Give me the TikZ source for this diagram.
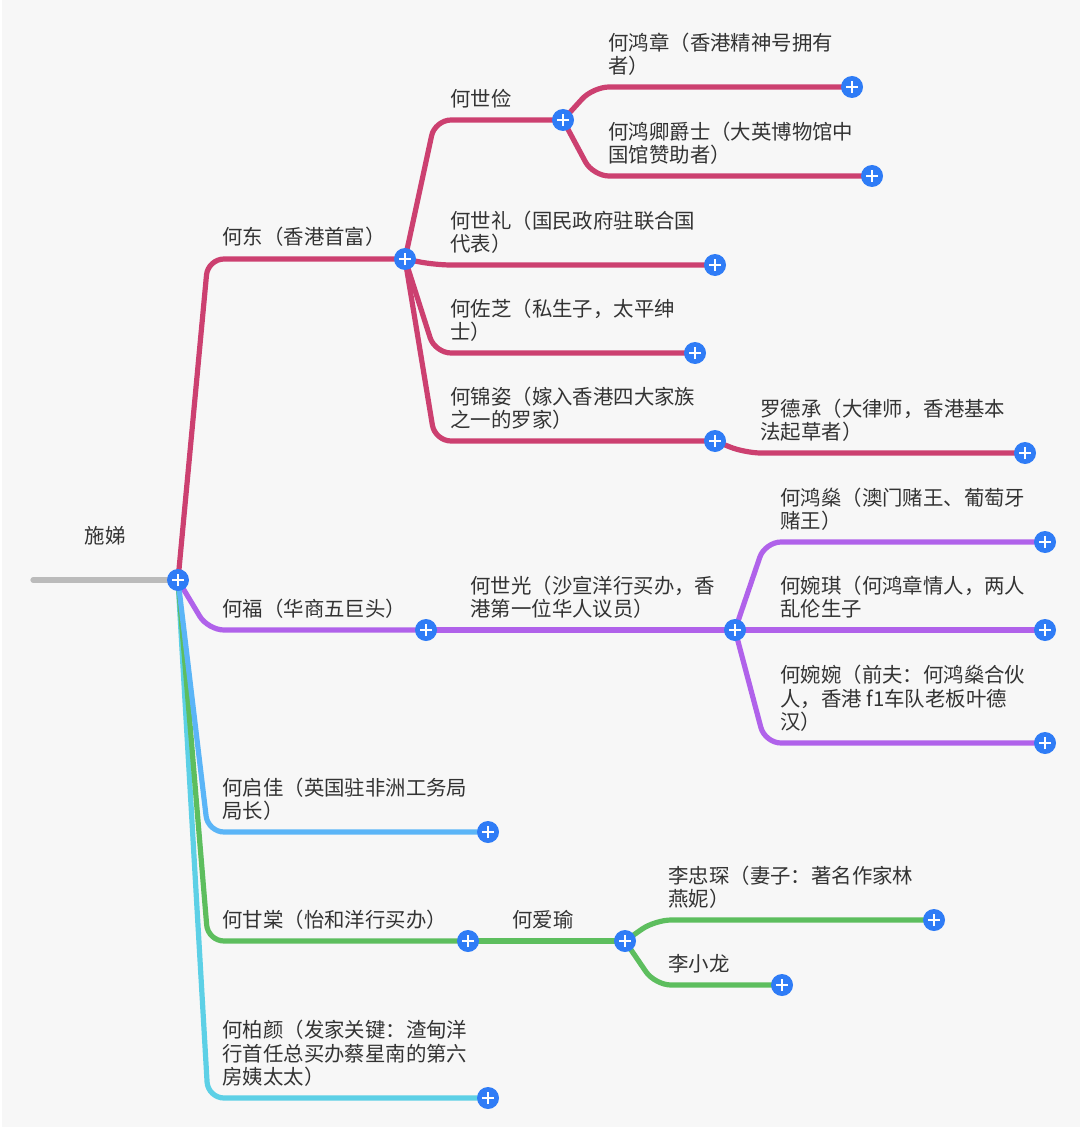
\documentclass[tikz,border=0pt]{standalone}
\usepackage{fontspec}
\setmainfont{Noto Sans CJK SC}
\usetikzlibrary{calc}

\pgfdeclarelayer{bg}
\pgfsetlayers{bg,main}

\definecolor{paper}{HTML}{F7F7F7}
\definecolor{txtgray}{HTML}{333333}
\definecolor{btnblue}{HTML}{2F7CF6}
\definecolor{rootgray}{HTML}{BBBBBB}
\definecolor{crimson}{HTML}{CC4070}
\definecolor{violet}{HTML}{B062EA}
\definecolor{skyblue}{HTML}{5BB5F7}
\definecolor{leafgreen}{HTML}{5DBE5E}
\definecolor{aqua}{HTML}{5DD0E6}

\tikzset{
	conn/.style={line width=2.6pt, line cap=round, rounded corners=8pt},
	plusbtn/.style={circle, fill=btnblue, minimum size=11pt, inner sep=0pt,
		path picture={
			\draw[white, line width=1.4pt]
				([xshift=-3pt]path picture bounding box.center) -- ([xshift=3pt]path picture bounding box.center)
				([yshift=-3pt]path picture bounding box.center) -- ([yshift=3pt]path picture bounding box.center);
		}},
	lbl/.style={anchor=south west, inner sep=0pt, align=left, text=txtgray,
		font=\fontsize{10.2pt}{11.75pt}\selectfont}
}

\begin{document}
\begin{tikzpicture}[x=0.5pt, y=-0.5pt]
	\useasboundingbox (0,0) rectangle (1080,1134);

	% buttons
	\node [plusbtn] (root) at (178,580) {};
	\node [plusbtn] (hd)   at (405,259) {};
	\node [plusbtn] (hsj)  at (563,120) {};
	\node [plusbtn] (hhz)  at (852,87) {};
	\node [plusbtn] (hhq)  at (872,176) {};
	\node [plusbtn] (hsl)  at (715,265) {};
	\node [plusbtn] (hzz)  at (695,353) {};
	\node [plusbtn] (hjz)  at (715,441) {};
	\node [plusbtn] (ldc)  at (1025,453) {};
	\node [plusbtn] (hf)   at (426,630) {};
	\node [plusbtn] (hsg)  at (735,630) {};
	\node [plusbtn] (hhs)  at (1045,542) {};
	\node [plusbtn] (hwq)  at (1045,630) {};
	\node [plusbtn] (hww)  at (1045,743) {};
	\node [plusbtn] (hqj)  at (488,832) {};
	\node [plusbtn] (hgt)  at (468,941) {};
	\node [plusbtn] (hay)  at (625,941) {};
	\node [plusbtn] (lzc)  at (934,920) {};
	\node [plusbtn] (lxl)  at (782,985) {};
	\node [plusbtn] (hby)  at (488,1098) {};
	\coordinate (rootend) at (33,580);

	% labels
	\node [lbl, anchor=center] (shiti) at (105,536) {施娣};
	\node [lbl] (hdT)  at (222,247) {何东（香港首富）};
	\node [lbl] (hsjT) at (450,109) {何世俭};
	\node [lbl] (hhzT) at (608,76) {何鸿章（香港精神号拥有\\者）};
	\node [lbl] (hhqT) at (608,165) {何鸿卿爵士（大英博物馆中\\国馆赞助者）};
	\node [lbl] (hslT) at (450,254) {何世礼（国民政府驻联合国\\代表）};
	\node [lbl] (hzzT) at (450,342) {何佐芝（私生子，太平绅\\士）};
	\node [lbl] (hjzT) at (450,430) {何锦姿（嫁入香港四大家族\\之一的罗家）};
	\node [lbl] (ldcT) at (760,442) {罗德承（大律师，香港基本\\法起草者）};
	\node [lbl] (hfT)  at (222,619) {何福（华商五巨头）};
	\node [lbl] (hsgT) at (470,619) {何世光（沙宣洋行买办，香\\港第一位华人议员）};
	\node [lbl] (hhsT) at (780,531) {何鸿燊（澳门赌王、葡萄牙\\赌王）};
	\node [lbl] (hwqT) at (780,619) {何婉琪（何鸿章情人，两人\\乱伦生子};
	\node [lbl] (hwwT) at (780,732) {何婉婉（前夫：何鸿燊合伙\\人，香港 f1车队老板叶德\\汉）};
	\node [lbl] (hqjT) at (222,821) {何启佳（英国驻非洲工务局\\局长）};
	\node [lbl] (hgtT) at (222,930) {何甘棠（怡和洋行买办）};
	\node [lbl] (hayT) at (512,930) {何爱瑜};
	\node [lbl] (lzcT) at (668,909) {李忠琛（妻子：著名作家林\\燕妮）};
	\node [lbl] (lxlT) at (668,974) {李小龙};
	\node [lbl] (hbyT) at (222,1087) {何柏颜（发家关键：渣甸洋\\行首任总买办蔡星南的第六\\房姨太太）};

	\begin{pgfonlayer}{bg}
		\fill [white] (0,0) rectangle (1080,1134);
		\fill [paper] (2,0) rectangle (1080,1127);

		\draw [conn, rootgray] (rootend) -- (root.center);

		% 何东
		\draw [conn, crimson] (root.center) -- ($(root.center |- hd.center)+(30,0)$) -- (hd.center);
		\draw [conn, crimson] (hd.center) -- ($(hd.center |- hsj.center)+(30,0)$) -- (hsj.center);
		\draw [conn, crimson] (hsj.center) -- ($(hsj.center |- hhz.center)+(30,0)$) -- (hhz.center);
		\draw [conn, crimson] (hsj.center) -- ($(hsj.center |- hhq.center)+(30,0)$) -- (hhq.center);
		\draw [conn, crimson] (hd.center) -- ($(hd.center |- hsl.center)+(30,0)$) -- (hsl.center);
		\draw [conn, crimson] (hd.center) -- ($(hd.center |- hzz.center)+(30,0)$) -- (hzz.center);
		\draw [conn, crimson] (hd.center) -- ($(hd.center |- hjz.center)+(30,0)$) -- (hjz.center);
		\draw [conn, crimson] (hjz.center) -- ($(hjz.center |- ldc.center)+(30,0)$) -- (ldc.center);

		% 何福
		\draw [conn, violet] (root.center) -- ($(root.center |- hf.center)+(30,0)$) -- (hf.center);
		\draw [conn, violet] (hf.center) -- (hsg.center);
		\draw [conn, violet] (hsg.center) -- ($(hsg.center |- hhs.center)+(30,0)$) -- (hhs.center);
		\draw [conn, violet] (hsg.center) -- (hwq.center);
		\draw [conn, violet] (hsg.center) -- ($(hsg.center |- hww.center)+(30,0)$) -- (hww.center);

		% 何柏颜, 何甘棠, 何启佳
		\draw [conn, aqua] (root.center) -- ($(root.center |- hby.center)+(30,0)$) -- (hby.center);
		\draw [conn, leafgreen] (root.center) -- ($(root.center |- hgt.center)+(30,0)$) -- (hgt.center);
		\draw [conn, skyblue] (root.center) -- ($(root.center |- hqj.center)+(30,0)$) -- (hqj.center);

		\draw [conn, leafgreen] (hgt.center) -- (hay.center);
		\draw [conn, leafgreen] (hay.center) -- ($(hay.center |- lzc.center)+(30,0)$) -- (lzc.center);
		\draw [conn, leafgreen] (hay.center) -- ($(hay.center |- lxl.center)+(30,0)$) -- (lxl.center);
	\end{pgfonlayer}
\end{tikzpicture}
\end{document}
